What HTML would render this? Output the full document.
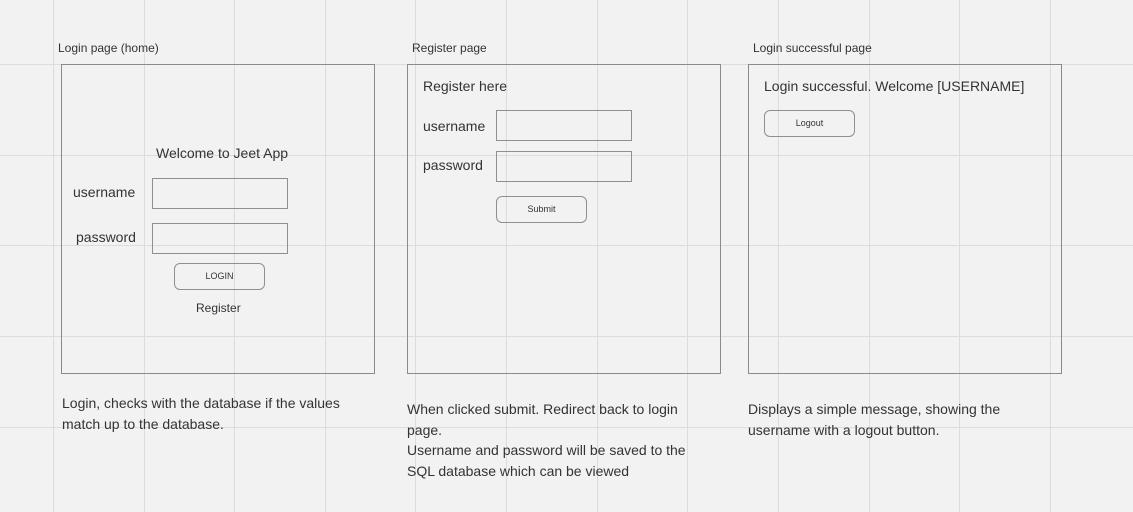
<!DOCTYPE html>
<html><head><style>
*{box-sizing:border-box}
body{margin:0;width:1133px;height:512px;background:#f2f2f2;position:relative;overflow:hidden;font-family:"Liberation Sans",sans-serif;color:#333}
.v{position:absolute;top:0;width:1px;height:512px;background:#dcdcdc}
.h{position:absolute;left:0;height:1px;width:1133px;background:#dcdcdc}
.box{position:absolute;border:1px solid #8a8a8a}
.in{position:absolute;border:1px solid #8f8f8f;height:31px;width:136px}
.btn{position:absolute;border:1px solid #8f8f8f;border-radius:6px;font-size:9px;text-align:center;line-height:25px;height:27px;width:91px}
.t{position:absolute;white-space:nowrap}
</style></head><body>
<div class="v" style="left:53px"></div><div class="v" style="left:144px"></div><div class="v" style="left:234px"></div><div class="v" style="left:325px"></div><div class="v" style="left:415px"></div><div class="v" style="left:506px"></div><div class="v" style="left:597px"></div><div class="v" style="left:687px"></div><div class="v" style="left:778px"></div><div class="v" style="left:869px"></div><div class="v" style="left:959px"></div><div class="v" style="left:1050px"></div>
<div class="h" style="top:64px"></div><div class="h" style="top:155px"></div><div class="h" style="top:245px"></div><div class="h" style="top:336px"></div><div class="h" style="top:427px"></div>

<div class="t" style="left:58px;top:41px;font-size:12px">Login page (home)</div>
<div class="t" style="left:412px;top:41px;font-size:12px">Register page</div>
<div class="t" style="left:753px;top:41px;font-size:12px">Login successful page</div>

<div class="box" style="left:61px;top:64px;width:314px;height:310px"></div>
<div class="box" style="left:407px;top:64px;width:314px;height:310px"></div>
<div class="box" style="left:748px;top:64px;width:314px;height:310px"></div>

<div class="t" style="left:156px;top:145px;font-size:14px">Welcome to Jeet App</div>
<div class="t" style="left:73px;top:184px;font-size:14px">username</div>
<div class="in" style="left:152px;top:178px"></div>
<div class="t" style="left:76px;top:229px;font-size:14px">password</div>
<div class="in" style="left:152px;top:223px"></div>
<div class="btn" style="left:174px;top:263px">LOGIN</div>
<div class="t" style="left:196px;top:301px;font-size:12px">Register</div>

<div class="t" style="left:423px;top:78px;font-size:14px">Register here</div>
<div class="t" style="left:423px;top:118px;font-size:14px">username</div>
<div class="in" style="left:496px;top:110px"></div>
<div class="t" style="left:423px;top:157px;font-size:14px">password</div>
<div class="in" style="left:496px;top:151px"></div>
<div class="btn" style="left:496px;top:196px">Submit</div>

<div class="t" style="left:764px;top:78px;font-size:14px">Login successful. Welcome [USERNAME]</div>
<div class="btn" style="left:764px;top:110px">Logout</div>

<div class="t" style="left:62px;top:393px;font-size:14px;line-height:21px">Login, checks with the database if the values<br>match up to the database.</div>
<div class="t" style="left:407px;top:399px;font-size:14px;line-height:20.5px">When clicked submit. Redirect back to login<br>page.<br>Username and password will be saved to the<br>SQL database which can be viewed</div>
<div class="t" style="left:748px;top:399px;font-size:14px;line-height:20.5px">Displays a simple message, showing the<br>username with a logout button.</div>
</body></html>
